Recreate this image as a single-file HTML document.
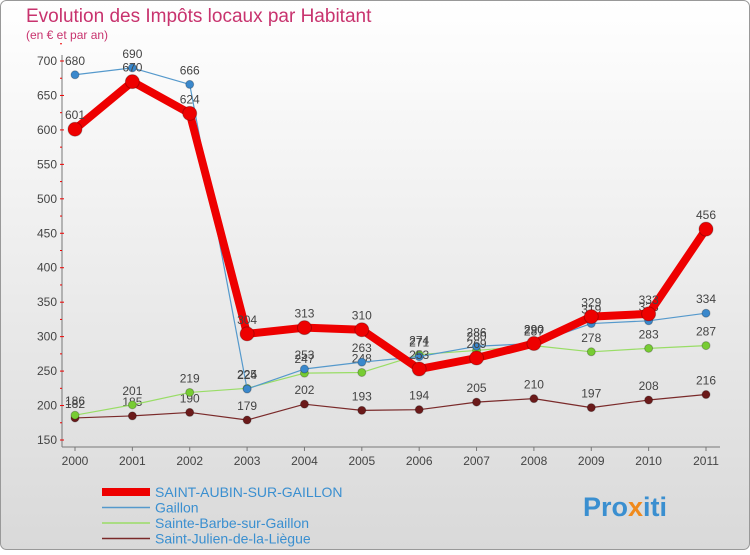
<!DOCTYPE html>
<html><head><meta charset="utf-8"><style>
body{margin:0;width:750px;height:550px;overflow:hidden;font-family:"Liberation Sans",sans-serif}
</style></head><body>
<svg width="750" height="550" id="c" font-family="Liberation Sans, sans-serif">
<defs><linearGradient id="bg" x1="0" y1="0" x2="0" y2="1"><stop offset="0" stop-color="#ffffff"/><stop offset="1" stop-color="#d9d9d9"/></linearGradient></defs>
<rect x="0.5" y="0.5" width="749" height="549" rx="6" fill="url(#bg)" stroke="#999"/>
<text x="26" y="22" font-size="19" fill="#c8336e">Evolution des Impôts locaux par Habitant</text>
<text x="26" y="39" font-size="12" fill="#c8336e">(en € et par an)</text>
<g id="axes"></g><g id="series"></g><g id="legend"></g>
<text x="583" y="516" font-size="27" font-weight="bold" fill="#3a8fd0">Pro<tspan fill="#f08a1c">x</tspan>iti</text>
</svg>
<script>
const years=[2000,2001,2002,2003,2004,2005,2006,2007,2008,2009,2010,2011];
const yTicks=[150,200,250,300,350,400,450,500,550,600,650,700];
const stAubin=[601,670,624,304,313,310,253,269,290,329,333,456];
const gaillon=[680,690,666,224,253,263,271,286,290,319,323,334];
const stBarbe=[186,201,219,225,247,248,274,280,287,278,283,287];
const stJulien=[182,185,190,179,202,193,194,205,210,197,208,216];
const NS='http://www.w3.org/2000/svg';
const X=i=>75+i*(706-75)/11;
const Y=v=>440-(v-150)*(440-61)/550;
function mk(t,a,p){const e=document.createElementNS(NS,t);for(const k in a)e.setAttribute(k,a[k]);p.appendChild(e);return e;}
const ax=document.getElementById('axes');
const yl=mk('line',{x1:62,y1:55,x2:62,y2:447,stroke:'#777'},ax);


const xl=mk('line',{x1:62,y1:447,x2:720,y2:447,stroke:'#777'},ax);


yTicks.forEach(v=>{
 const t=mk('text',{x:57,y:Y(v)+4,'font-size':12,fill:'#444','text-anchor':'end'},ax);t.textContent=v;
 
 
 mk('line',{x1:60,y1:Y(v),x2:64,y2:Y(v),stroke:'#e00'},ax);
 mk('line',{x1:60,y1:Y(v+25),x2:62,y2:Y(v+25),stroke:'#e00'},ax);
});
years.forEach((y,i)=>{
 const t=mk('text',{x:X(i),y:465,'font-size':12,fill:'#444','text-anchor':'middle'},ax);t.textContent=y;
 
 
 mk('line',{x1:X(i),y1:447,x2:X(i),y2:451,stroke:'#777'},ax);
});
const sg=document.getElementById('series');
function draw(vals,color,w,r,dot,name){
 const g=mk('g',{},sg);
 
 
 mk('polyline',{points:vals.map((v,i)=>X(i)+','+Y(v)).join(' '),fill:'none',stroke:color,'stroke-width':w,'stroke-linejoin':'round'},g);
 vals.forEach((v,i)=>{
  const c=mk('circle',{cx:X(i),cy:Y(v),r:r,fill:dot,stroke:'rgba(0,0,0,0.25)'},g);
  
  
  const t=mk('text',{x:X(i),y:Y(v)-10,'font-size':12,fill:'#444','text-anchor':'middle'},g);t.textContent=v;
  
  
 });
}
draw(stJulien,'#7a2a2a',1.2,4,'#6b1a1a','series-saint-julien');
draw(stBarbe,'#99dd66',1.2,4,'#77cc33','series-sainte-barbe');
draw(gaillon,'#5599cc',1.2,4,'#3a88cc','series-gaillon');
draw(stAubin,'#ee0000',8,7,'#ee0000','series-saint-aubin');
const lg=document.getElementById('legend');
const items=[['SAINT-AUBIN-SUR-GAILLON','#ee0000',8],['Gaillon','#5599cc',1.5],['Sainte-Barbe-sur-Gaillon','#99dd66',1.5],['Saint-Julien-de-la-Liègue','#7a2a2a',1.5]];
items.forEach((it,i)=>{
 const y=492+i*15.5;
 const g=mk('g',{},lg);
 
 
 mk('line',{x1:102,y1:y,x2:150,y2:y,stroke:it[1],'stroke-width':it[2]},g);
 const t=mk('text',{x:155,y:y+5,'font-size':14,fill:'#3a8fd0'},g);t.textContent=it[0];
});
</script>
</body></html>
